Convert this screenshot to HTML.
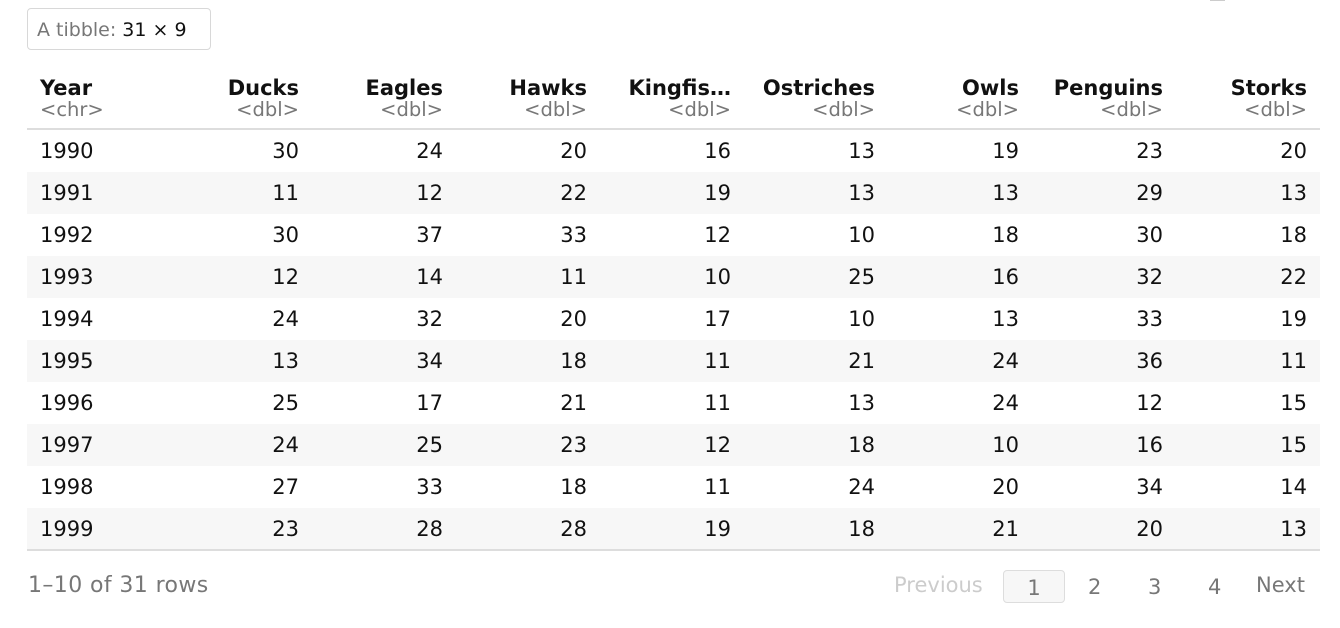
<!DOCTYPE html>
<html><head><meta charset="utf-8"><style>
body{margin:0;width:1340px;height:628px;background:#fff;font-family:"DejaVu Sans","Liberation Sans",sans-serif;position:relative;overflow:hidden;color:#111}
.abs{position:absolute}
.box{left:27px;top:8px;width:184px;height:42px;border:1px solid #d8d8d8;border-radius:4px;font-size:19px;line-height:42px;color:#777;box-sizing:border-box;padding-left:9px;white-space:nowrap}
.box b{font-weight:normal;color:#111}
.hdr{font-size:21px;font-weight:bold;top:76px;white-space:nowrap}
.typ{font-size:19.5px;color:#777;top:98px;white-space:nowrap}
.cell{font-size:21px;line-height:42px}
.row{left:27px;width:1293px;height:42px}
.r{text-align:right;width:140px}
.pg{font-size:21px;top:573px;color:#777}
</style></head><body>
<div class="abs" style="left:1210px;top:0;width:15px;height:1px;background:#ccc"></div>
<div class="abs box">A tibble: <b>31 × 9</b></div>
<div id="t"></div>
<div class="abs" style="left:27px;top:128px;width:1293px;height:2px;background:#ddd"></div>
<div class="abs" style="left:27px;top:549px;width:1293px;height:2px;background:#ddd"></div>
<div class="abs pg" style="left:28px;font-size:22px;letter-spacing:0.4px">1–10 of 31 rows</div>
<div class="abs pg" style="left:894px;color:#ccc">Previous</div>
<div class="abs" style="left:1003px;top:570px;width:62px;height:33px;border:1px solid #ddd;border-radius:4px;background:#f7f7f7;box-sizing:border-box;text-align:center;font-size:21px;line-height:34px;color:#777">1</div>
<div class="abs pg" style="left:1088px;top:575px">2</div>
<div class="abs pg" style="left:1148px;top:575px">3</div>
<div class="abs pg" style="left:1208px;top:575px">4</div>
<div class="abs pg" style="left:1256px;">Next</div>
<script>
const columns=["Year","Ducks","Eagles","Hawks","Kingfis…","Ostriches","Owls","Penguins","Storks"];
const types=["<chr>","<dbl>","<dbl>","<dbl>","<dbl>","<dbl>","<dbl>","<dbl>","<dbl>"];
const years=["1990","1991","1992","1993","1994","1995","1996","1997","1998","1999"];
const ducks=[30,11,30,12,24,13,25,24,27,23];
const eagles=[24,12,37,14,32,34,17,25,33,28];
const hawks=[20,22,33,11,20,18,21,23,18,28];
const kingfishers=[16,19,12,10,17,11,11,12,11,19];
const ostriches=[13,13,10,25,10,21,13,18,24,18];
const owls=[19,13,18,16,13,24,24,10,20,21];
const penguins=[23,29,30,32,33,36,12,16,34,20];
const storks=[20,13,18,22,19,11,15,15,14,13];
const series=[ducks,eagles,hawks,kingfishers,ostriches,owls,penguins,storks];
const t=document.getElementById('t');
function mk(cls,txt,x,y,right){const d=document.createElement('div');d.className='abs '+cls;d.textContent=txt;d.style.top=y+'px';
 if(right){d.classList.add('r');d.style.left=(x-140)+'px';}else d.style.left=x+'px';t.appendChild(d);return d;}
columns.forEach((c,i)=>{
 const right=i>0, x=i===0?40:299+(i-1)*144;
 const h=mk('hdr',c,x,76,right);
 
 
 const ty=mk('typ',types[i],x,98,right);
 
 
});
years.forEach((y,r)=>{
 const top=130+r*42;
 const bg=document.createElement('div');bg.className='abs row';bg.style.top=top+'px';bg.style.background=r%2?'#f7f7f7':'#fff';
 
 
 t.appendChild(bg);
 const yc=mk('cell',y,40,top,false);
 
 
 series.forEach((s,i)=>{const c=mk('cell',String(s[r]),299+i*144,top,true);
  
  });
});
</script>
</body></html>
